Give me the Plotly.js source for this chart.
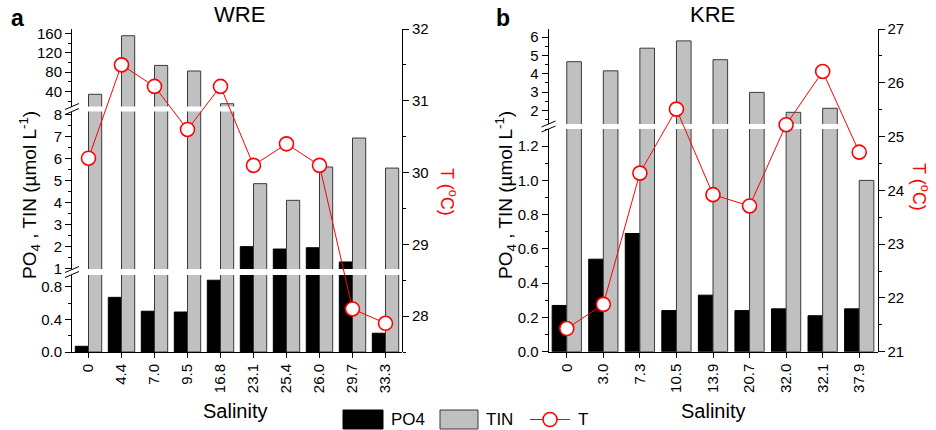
<!DOCTYPE html>
<html>
<head>
<meta charset="utf-8">
<script src="https://cdn.plot.ly/plotly-3.0.1.min.js"></script>
<style>html,body{margin:0;padding:0;background:#fff;}#chart{width:936px;height:430px;}</style>
</head>
<body>
<div id="chart"></div>
<script>
// ---- data ----
const catsA = ['0','4.4','7.0','9.5','16.8','23.1','25.4','26.0','29.7','33.3'];
const po4A  = [0.07, 0.67, 0.50, 0.49, 0.88, 1.99, 1.88, 1.94, 1.29, 0.23];
const tinA  = [34.7, 155, 94, 82.5, 15.3, 4.86, 4.1, 5.62, 6.94, 5.57];
const tA    = [30.2, 31.5, 31.2, 30.6, 31.2, 30.1, 30.4, 30.1, 28.1, 27.9];

const catsB = ['0','3.0','7.3','10.5','13.9','20.7','32.0','32.1','37.9'];
const po4B  = [0.27, 0.54, 0.69, 0.24, 0.33, 0.24, 0.25, 0.21, 0.25];
const tinB  = [4.66, 4.16, 5.40, 5.80, 4.77, 2.98, 1.89, 2.11, 1.00];
const tB    = [21.43, 21.88, 24.32, 25.51, 23.92, 23.71, 25.22, 26.21, 24.71];

const titleA = 'WRE', titleB = 'KRE';
const yTitle = 'PO<sub>4</sub> , TIN (µmol L<sup>-1</sup>)';
const tTitle = 'T (<sup>o</sup>C)';
const xTitle = 'Salinity';

// ---- helpers ----
const W = 936, H = 430;
const fx = p => p / W;
const fy = p => 1 - p / H;
const FONT = '"Liberation Sans", Arial, sans-serif';

const po4Style = {color: '#000000', line: {color: '#000000', width: 1}};
const tinStyle = {color: '#c0c0c0', line: {color: '#3a3a3a', width: 1}};

function barTraces(cats, po4, tin, xa, yas) {
  const out = [];
  yas.forEach(ya => {
    out.push({type: 'bar', x: cats, y: po4, xaxis: xa, yaxis: ya, name: 'PO4', marker: po4Style, showlegend: false, hoverinfo: 'skip'});
    out.push({type: 'bar', x: cats, y: tin, xaxis: xa, yaxis: ya, name: 'TIN', marker: tinStyle, showlegend: false, hoverinfo: 'skip'});
  });
  return out;
}
function tTrace(cats, t, xa, ya) {
  return {type: 'scatter', mode: 'lines+markers', x: cats, y: t, xaxis: xa, yaxis: ya, name: 'T',
    line: {color: '#ff0000', width: 1},
    marker: {symbol: 'circle', size: 14, color: '#ffffff', line: {color: '#ff0000', width: 1.6}},
    cliponaxis: false, showlegend: false, hoverinfo: 'skip'};
}

const data = []
  .concat(barTraces(catsA, po4A, tinA, 'x', ['y', 'y2', 'y3']))
  .concat([tTrace(catsA, tA, 'x', 'y4')])
  .concat(barTraces(catsB, po4B, tinB, 'x2', ['y5', 'y6']))
  .concat([tTrace(catsB, tB, 'x2', 'y7')]);

const tickFont = {family: FONT, size: 15, color: '#000'};
function yax(domTopPx, domBotPx, range, dtick, minorDtick, fmt, extra) {
  return Object.assign({
    domain: [fy(domBotPx), fy(domTopPx)], range: range, dtick: dtick, tick0: 0,
    tickformat: fmt || '', showline: true, linecolor: '#000', linewidth: 1,
    ticks: 'outside', ticklen: 6, tickwidth: 1, tickcolor: '#000',
    minor: {ticks: 'outside', ticklen: 3, dtick: minorDtick, tickcolor: '#000', tickwidth: 1, showgrid: false},
    showgrid: false, zeroline: false, tickfont: tickFont, fixedrange: true
  }, extra || {});
}
function xax(domL, domR, n, anchor) {
  return {domain: [fx(domL), fx(domR)], type: 'category', range: [-0.5, n - 0.5], anchor: anchor,
    showline: true, linecolor: '#000', linewidth: 1, ticks: 'outside', ticklen: 5, tickwidth: 1, tickcolor: '#000',
    tickangle: -90, tickfont: tickFont, showgrid: false, zeroline: false, fixedrange: true};
}

const axAL = 72, axAR = 402, axBL = 548.5, axBR = 877.5;
const plotTop = 29, botA = 352, botB = 351.7;

function brk(ax, yc) {
  const s = [];
  [-2.5, 2.5].forEach(off => {
    s.push({type: 'line', xref: 'paper', yref: 'paper', x0: fx(ax - 7), y0: fy(yc + off + 3), x1: fx(ax + 7), y1: fy(yc + off - 3),
      line: {color: '#000', width: 1}});
  });
  return s;
}

function ann(text, xp, yp, size, opts) {
  return Object.assign({text: text, xref: 'paper', yref: 'paper', x: fx(xp), y: fy(yp), showarrow: false,
    xanchor: 'center', yanchor: 'middle', font: {family: FONT, size: size, color: '#000'}}, opts || {});
}

const shapes = []
  .concat(brk(axAL, 109)).concat(brk(axAL, 272)).concat(brk(axBL, 126.5))
  .concat([
    {type: 'rect', xref: 'paper', yref: 'paper', x0: fx(343), x1: fx(383), y0: fy(429), y1: fy(410), fillcolor: '#000', line: {color: '#000', width: 1}},
    {type: 'rect', xref: 'paper', yref: 'paper', x0: fx(440), x1: fx(478), y0: fy(429), y1: fy(410), fillcolor: '#c0c0c0', line: {color: '#3a3a3a', width: 1}},
    {type: 'line', xref: 'paper', yref: 'paper', x0: fx(530), x1: fx(570), y0: fy(419.5), y1: fy(419.5), line: {color: '#ff0000', width: 1}},
    {type: 'circle', xref: 'paper', yref: 'paper', x0: fx(543), x1: fx(557), y0: fy(426.5), y1: fy(412.5), fillcolor: '#fff', line: {color: '#ff0000', width: 1.6}}
  ]);

const annotations = [
  ann(titleA, 240, 15, 22),
  ann(titleB, 712, 15, 22),
  ann('<b>a</b>', 17, 18, 23),
  ann('<b>b</b>', 503, 18, 23),
  ann(yTitle, 30, 195, 19, {textangle: -90}),
  ann(yTitle, 506, 195, 19, {textangle: -90}),
  ann(tTitle, 449, 192, 18, {textangle: 90, font: {family: FONT, size: 18, color: '#ff0000'}}),
  ann(tTitle, 921, 187, 18, {textangle: 90, font: {family: FONT, size: 18, color: '#ff0000'}}),
  ann(xTitle, 235, 411, 20),
  ann(xTitle, 713, 411, 20),
  ann('PO4', 389, 419.5, 17, {xanchor: 'left'}),
  ann('TIN', 484, 419.5, 17, {xanchor: 'left'}),
  ann('T', 576, 419.5, 17, {xanchor: 'left'})
];

const layout = {
  width: W, height: H, margin: {l: 0, r: 0, t: 0, b: 0},
  paper_bgcolor: '#fff', plot_bgcolor: 'rgba(0,0,0,0)',
  barmode: 'group', bargap: 0.2, bargroupgap: 0,
  showlegend: false,
  font: {family: FONT, size: 15, color: '#000'},
  xaxis: xax(axAL, axAR, catsA.length, 'y'),
  xaxis2: xax(axBL, axBR, catsB.length, 'y5'),
  yaxis: yax(275, botA, [0, 0.944], 0.4, 0.2, '.1f', {anchor: 'x'}),
  yaxis2: yax(111.5, 269, [0.97, 8.15], 1, 0.5, '', {anchor: 'x'}),
  yaxis3: yax(plotTop, 106.5, [9.6, 168.8], 40, 20, '', {anchor: 'x'}),
  yaxis4: yax(plotTop, botA, [27.5, 32], 1, 0.5, '', {anchor: 'x', side: 'right'}),
  yaxis5: yax(129, botB, [0, 1.30], 0.2, 0.1, '.1f', {anchor: 'x2'}),
  yaxis6: yax(plotTop, 124, [1.25, 6.45], 1, 0.5, '', {anchor: 'x2'}),
  yaxis7: yax(plotTop, botB, [21, 27], 1, 0.5, '', {anchor: 'x2', side: 'right'}),
  shapes: shapes,
  annotations: annotations
};

Plotly.newPlot('chart', data, layout, {staticPlot: true, displayModeBar: false});
</script>
</body>
</html>
